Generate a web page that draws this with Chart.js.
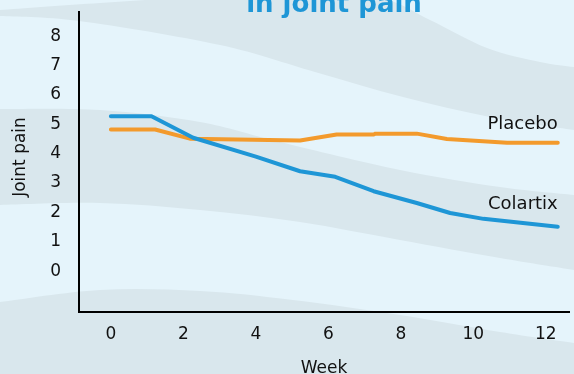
<!DOCTYPE html>
<html>
<head>
<meta charset="utf-8">
<script src="https://cdn.jsdelivr.net/npm/chart.js@4/dist/chart.umd.min.js"></script>
<style>
  html, body { margin: 0; padding: 0; background: #e5f4fb; }
  canvas { display: block; }
</style>
</head>
<body>
<canvas id="chart" width="574" height="374"></canvas>
<script>
// Mean joint pain score by week
const colartixWeeks = [0, 1.12, 2.27, 4.0, 5.22, 6.19, 7.25, 8.44, 9.36, 10.28, 12.33];
const colartixPain  = [5.27, 5.27, 4.54, 3.90, 3.40, 3.21, 2.72, 2.32, 1.98, 1.78, 1.51];

const placeboWeeks = [0, 1.22, 2.18, 5.22, 6.23, 7.25, 7.30, 8.44, 9.27, 10.93, 12.33];
const placeboPain  = [4.82, 4.82, 4.51, 4.45, 4.65, 4.65, 4.68, 4.68, 4.50, 4.37, 4.37];

const weekTicks = [0, 2, 4, 6, 8, 10, 12];
const painTicks = [0, 1, 2, 3, 4, 5, 6, 7, 8];

const seriesNames = ['Colartix', 'Placebo'];
const chartTitle = 'in joint pain';
const xAxisTitle = 'Week';
const yAxisTitle = 'Joint pain';

const FONT = '"DejaVu Sans", Verdana, sans-serif';
const BLUE = '#1e96d6';
const ORANGE = '#f39a2c';
const BASE_BG = '#e5f4fb';
const BAND_BG = '#d9e7ed';

function toPoints(xs, ys) {
  return xs.map((x, i) => ({ x: x, y: ys[i] }));
}

// Smooth curve through a list of points (Catmull-Rom -> Bezier)
function curveThrough(ctx, pts, moveFirst) {
  if (moveFirst) ctx.moveTo(pts[0][0], pts[0][1]);
  else ctx.lineTo(pts[0][0], pts[0][1]);
  for (let i = 0; i < pts.length - 1; i++) {
    const p0 = pts[Math.max(i - 1, 0)];
    const p1 = pts[i];
    const p2 = pts[i + 1];
    const p3 = pts[Math.min(i + 2, pts.length - 1)];
    const c1x = p1[0] + (p2[0] - p0[0]) / 6;
    const c1y = p1[1] + (p2[1] - p0[1]) / 6;
    const c2x = p2[0] - (p3[0] - p1[0]) / 6;
    const c2y = p2[1] - (p3[1] - p1[1]) / 6;
    ctx.bezierCurveTo(c1x, c1y, c2x, c2y, p2[0], p2[1]);
  }
}

// Decorative wavy background bands
const wavyBackground = {
  id: 'wavyBackground',
  beforeDraw(chart) {
    const ctx = chart.ctx;
    const w = chart.width, h = chart.height;
    ctx.save();
    ctx.fillStyle = BASE_BG;
    ctx.fillRect(0, 0, w, h);
    ctx.fillStyle = BAND_BG;

    const bands = [
      {
        upper: [[-10, 11], [0, 10], [100, 3], [200, -3], [300, -5], [380, -2], [430, 20], [487, 48], [540, 62], [574, 67], [590, 68]],
        lower: [[-10, 15], [0, 16], [79, 21], [220, 45], [315, 72], [403, 97], [490, 117], [574, 130], [590, 132]]
      },
      {
        upper: [[-10, 109], [0, 109], [100, 110], [200, 122], [280, 142], [400, 170], [500, 187], [574, 195], [590, 197]],
        lower: [[-10, 205], [0, 205], [100, 203], [200, 210], [300, 222], [400, 240], [500, 258], [574, 270], [590, 273]]
      },
      {
        upper: [[-10, 303], [0, 302], [100, 290], [200, 291], [293, 300], [400, 315], [500, 332], [574, 343], [590, 345]],
        lower: [[-10, h + 10], [590, h + 10]]
      }
    ];

    bands.forEach(b => {
      ctx.beginPath();
      curveThrough(ctx, b.upper, true);
      curveThrough(ctx, b.lower.slice().reverse(), false);
      ctx.closePath();
      ctx.fill();
    });
    ctx.restore();
  }
};

// Title, vertical axis title and series labels at line ends
const chartTexts = {
  id: 'chartTexts',
  afterDraw(chart) {
    const ctx = chart.ctx;
    ctx.save();

    ctx.fillStyle = BLUE;
    ctx.font = 'bold 26px ' + FONT;
    ctx.textAlign = 'center';
    ctx.textBaseline = 'alphabetic';
    ctx.fillText(chartTitle, 334, 11.7);

    ctx.fillStyle = '#111';
    ctx.font = '17px ' + FONT;
    ctx.save();
    ctx.translate(20.7, 157);
    ctx.rotate(-Math.PI / 2);
    ctx.textAlign = 'center';
    ctx.textBaseline = 'middle';
    ctx.fillText(yAxisTitle, 0, 0);
    ctx.restore();

    ctx.font = '18px ' + FONT;
    ctx.textAlign = 'right';
    ctx.textBaseline = 'alphabetic';
    chart.data.datasets.forEach((ds, i) => {
      const meta = chart.getDatasetMeta(i);
      const last = meta.data[meta.data.length - 1];
      ctx.fillText(ds.label, last.x, last.y - ds.labelLift);
    });
    ctx.restore();
  }
};

new Chart(document.getElementById('chart'), {
  type: 'line',
  data: {
    datasets: [
      {
        label: seriesNames[0],
        data: toPoints(colartixWeeks, colartixPain),
        borderColor: BLUE,
        borderWidth: 4,
        borderCapStyle: 'round',
        borderJoinStyle: 'round',
        pointRadius: 0,
        tension: 0,
        fill: false,
        clip: false,
        labelLift: 18
      },
      {
        label: seriesNames[1],
        data: toPoints(placeboWeeks, placeboPain),
        borderColor: ORANGE,
        borderWidth: 4,
        borderCapStyle: 'round',
        borderJoinStyle: 'round',
        pointRadius: 0,
        tension: 0,
        fill: false,
        clip: false,
        labelLift: 14
      }
    ]
  },
  options: {
    responsive: false,
    animation: false,
    devicePixelRatio: 1,
    layout: { padding: { left: 0, right: 5, top: 12, bottom: 0 } },
    plugins: {
      legend: { display: false },
      tooltip: { enabled: false },
      title: { display: false }
    },
    scales: {
      x: {
        type: 'linear',
        min: -0.88,
        max: 12.64,
        afterBuildTicks: s => { s.ticks = weekTicks.map(v => ({ value: v })); },
        afterFit: s => { s.height = 62; s.paddingLeft = 0; s.paddingRight = 0; },
        grid: { display: false, drawTicks: false },
        border: { display: true, color: '#000', width: 2 },
        ticks: { color: '#111', font: { family: FONT, size: 17 }, padding: 12, maxRotation: 0 },
        title: {
          display: true,
          text: xAxisTitle,
          color: '#111',
          font: { family: FONT, size: 17 },
          padding: { top: 0, bottom: -5 }
        }
      },
      y: {
        type: 'linear',
        min: -1.39,
        max: 8.82,
        afterBuildTicks: s => { s.ticks = painTicks.map(v => ({ value: v })); },
        afterFit: s => { s.width = 79; s.paddingTop = 0; s.paddingBottom = 0; },
        grid: { display: false, drawTicks: false },
        border: { display: true, color: '#000', width: 2 },
        ticks: { color: '#111', font: { family: FONT, size: 17 }, padding: 18 }
      }
    }
  },
  plugins: [wavyBackground, chartTexts]
});
</script>
</body>
</html>
